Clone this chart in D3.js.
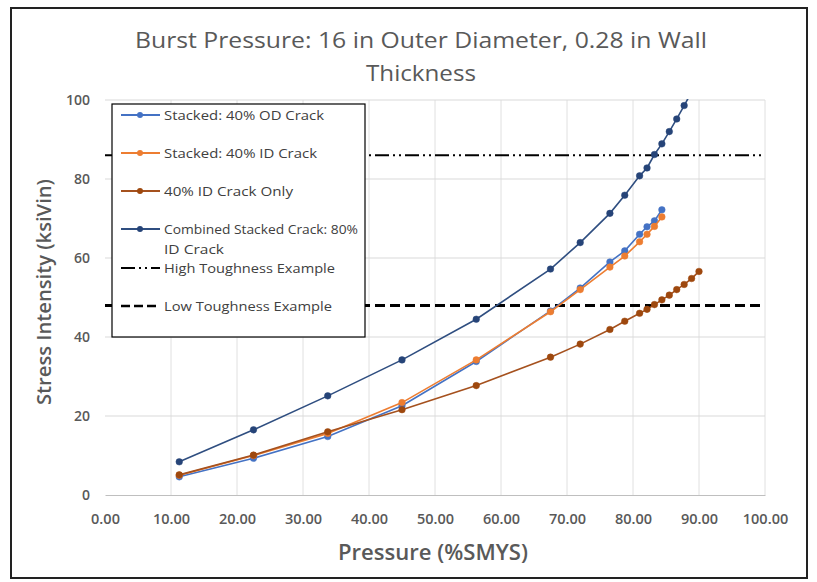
<!DOCTYPE html>
<html>
<head>
<meta charset="utf-8">
<script src="https://cdn.jsdelivr.net/npm/d3@7/dist/d3.min.js"></script>
<style>
  html, body { margin: 0; padding: 0; background: #fff; }
  svg text { font-family: "Open Sans", "Noto Sans", sans-serif; }
</style>
</head>
<body>
<svg id="chart" width="817" height="582"></svg>
<script>
// Pressure (%SMYS) at which each stress intensity was evaluated
const pressure = [11.25, 22.5, 33.75, 45, 56.25, 67.5, 72, 76.5, 78.75, 81, 82.125, 83.25, 84.375, 85.5, 86.625, 87.75, 88.875, 90];

// Stress intensity (ksi√in) per crack configuration
const stackedOD   = [4.6, 9.3, 14.8, 22.6, 33.8, 46.6, 52.4, 59.0, 61.8, 66.0, 67.9, 69.4, 72.2];
const stackedID   = [5.0, 10.0, 15.6, 23.4, 34.2, 46.4, 52.0, 57.7, 60.5, 64.1, 66.0, 68.0, 70.4];
const idOnly      = [5.1, 10.1, 16.0, 21.6, 27.7, 34.9, 38.2, 41.9, 44.0, 46.0, 47.0, 48.2, 49.4, 50.6, 52.0, 53.3, 54.8, 56.6];
const combined80  = [8.4, 16.5, 25.1, 34.2, 44.5, 57.2, 63.9, 71.3, 75.9, 80.8, 82.8, 86.2, 88.9, 92.0, 95.2, 98.6, 102.0];

// Toughness reference levels
const highToughness = 86;
const lowToughness = 48;

const xTicks = [0, 10, 20, 30, 40, 50, 60, 70, 80, 90, 100];
const yTicks = [0, 20, 40, 60, 80, 100];

const series = [
  { name: "Stacked: 40% OD Crack", values: stackedOD, color: "#4472C4", marker: "#4472C4" },
  { name: "Stacked: 40% ID Crack", values: stackedID, color: "#ED7D31", marker: "#ED7D31" },
  { name: "40% ID Crack Only", values: idOnly, color: "#A5511E", marker: "#9E480E" },
  { name: "Combined Stacked Crack: 80% ID Crack", values: combined80, color: "#2F4E80", marker: "#264478" }
];

const svg = d3.select("#chart");
const W = 817, H = 582;
const plot = { left: 105, right: 765, top: 100, bottom: 495 };

const x = d3.scaleLinear().domain([0, 100]).range([plot.left, plot.right]);
const y = d3.scaleLinear().domain([0, 100]).range([plot.bottom, plot.top]);

svg.append("rect").attr("width", W).attr("height", H).attr("fill", "#fff");
// outer frame
svg.append("rect").attr("x", 11).attr("y", 8).attr("width", 796).attr("height", 570)
  .attr("fill", "none").attr("stroke", "#222").attr("stroke-width", 2);

// Title
const title = svg.append("text").attr("text-anchor", "middle").attr("fill", "#595959")
  .attr("font-size", 21);
title.append("tspan").attr("x", 421).attr("y", 48)
  .attr("textLength", 572).attr("lengthAdjust", "spacingAndGlyphs")
  .text("Burst Pressure: 16 in Outer Diameter, 0.28 in Wall");
title.append("tspan").attr("x", 421).attr("y", 81)
  .attr("textLength", 110).attr("lengthAdjust", "spacingAndGlyphs")
  .text("Thickness");

// Gridlines
const grid = svg.append("g");
grid.selectAll("line.v").data(xTicks.slice(1)).join("line")
  .attr("x1", d => x(d)).attr("x2", d => x(d))
  .attr("y1", plot.top).attr("y2", plot.bottom)
  .attr("stroke", "#E0E0E0").attr("stroke-width", 1);
grid.selectAll("line.h").data(yTicks.slice(1)).join("line")
  .attr("x1", plot.left).attr("x2", plot.right)
  .attr("y1", d => y(d)).attr("y2", d => y(d))
  .attr("stroke", "#D9D9D9").attr("stroke-width", 1);

// Axes (tick labels only)
const xAxis = svg.append("g").attr("transform", `translate(0,${plot.bottom})`)
  .call(d3.axisBottom(x).tickValues(xTicks).tickSize(0).tickPadding(19).tickFormat(d3.format(".2f")));
xAxis.select(".domain").attr("stroke", "#BFBFBF");
xAxis.selectAll("text").attr("font-size", 14.5).attr("font-weight", 600).attr("fill", "#595959")
  .attr("font-family", "Open Sans, sans-serif");

const yAxis = svg.append("g").attr("transform", `translate(${plot.left},0)`)
  .call(d3.axisLeft(y).tickValues(yTicks).tickSize(0).tickPadding(15));
yAxis.select(".domain").remove();
yAxis.selectAll("text").attr("font-size", 14).attr("font-weight", 600).attr("fill", "#595959")
  .attr("font-family", "Open Sans, sans-serif");

// Axis titles
svg.append("text").attr("x", 433).attr("y", 560).attr("text-anchor", "middle")
  .attr("font-size", 21).attr("font-weight", 600).attr("fill", "#595959")
  .attr("textLength", 190).attr("lengthAdjust", "spacingAndGlyphs")
  .text("Pressure (%SMYS)");
svg.append("text").attr("transform", `translate(51,292) rotate(-90)`)
  .attr("text-anchor", "middle").attr("font-size", 19).attr("font-weight", 600).attr("fill", "#595959")
  .attr("textLength", 226).attr("lengthAdjust", "spacingAndGlyphs")
  .text("Stress Intensity (ksiVin)");

// Clip to plot area
svg.append("clipPath").attr("id", "plotClip").append("rect")
  .attr("x", plot.left).attr("y", plot.top - 1)
  .attr("width", plot.right - plot.left).attr("height", plot.bottom - plot.top + 1);

const marks = svg.append("g").attr("clip-path", "url(#plotClip)");

// Toughness reference lines
marks.append("line")
  .attr("x1", x(0)).attr("x2", x(100)).attr("y1", y(highToughness)).attr("y2", y(highToughness))
  .attr("stroke", "#000").attr("stroke-width", 2).attr("stroke-dasharray", "14,4,2,4,2,4");
marks.append("line")
  .attr("x1", x(0)).attr("x2", x(100)).attr("y1", y(lowToughness)).attr("y2", y(lowToughness))
  .attr("stroke", "#000").attr("stroke-width", 3).attr("stroke-dasharray", "10,5");

const line = d3.line().x(d => x(d[0])).y(d => y(d[1]));

series.forEach(s => {
  const pts = s.values.map((v, i) => [pressure[i], v]);
  marks.append("path").datum(pts).attr("d", line)
    .attr("fill", "none").attr("stroke", s.color).attr("stroke-width", 1.6);
  marks.selectAll(null).data(pts).join("circle")
    .attr("cx", d => x(d[0])).attr("cy", d => y(d[1])).attr("r", 3.3)
    .attr("fill", s.marker).attr("stroke", s.marker).attr("stroke-width", 0.5);
});

// Legend
const lg = svg.append("g");
lg.append("rect").attr("x", 112).attr("y", 104).attr("width", 253).attr("height", 233)
  .attr("fill", "#fff").attr("stroke", "#000").attr("stroke-width", 1.2);

const legendRows = [
  { s: series[0], y: 115 },
  { s: series[1], y: 153 },
  { s: series[2], y: 191 },
  { s: series[3], y: 229 }
];
legendRows.forEach(r => {
  lg.append("line").attr("x1", 121).attr("x2", 160).attr("y1", r.y).attr("y2", r.y)
    .attr("stroke", r.s.color).attr("stroke-width", 1.8);
  lg.append("circle").attr("cx", 140).attr("cy", r.y).attr("r", 3).attr("fill", r.s.marker);
});

const legendText = lg.append("g").attr("font-size", 13.5).attr("fill", "#404040");
const legendLabels = [
  { t: "Stacked: 40% OD Crack", y: 120, w: 160 },
  { t: "Stacked: 40% ID Crack", y: 158, w: 153 },
  { t: "40% ID Crack Only", y: 196, w: 129 },
  { t: "Combined Stacked Crack: 80%", y: 234, w: 194 },
  { t: "ID Crack", y: 254, w: 60 },
  { t: "High Toughness Example", y: 273, w: 171 },
  { t: "Low Toughness Example", y: 311, w: 168 }
];
legendLabels.forEach(l => {
  legendText.append("text").attr("x", 164).attr("y", l.y)
    .attr("textLength", l.w).attr("lengthAdjust", "spacingAndGlyphs").text(l.t);
});

lg.append("line").attr("x1", 121).attr("x2", 160).attr("y1", 268).attr("y2", 268)
  .attr("stroke", "#000").attr("stroke-width", 2).attr("stroke-dasharray", "14,4,2,4,2,4");
lg.append("line").attr("x1", 121).attr("x2", 160).attr("y1", 306).attr("y2", 306)
  .attr("stroke", "#000").attr("stroke-width", 2.5).attr("stroke-dasharray", "9,4");
</script>
</body>
</html>
